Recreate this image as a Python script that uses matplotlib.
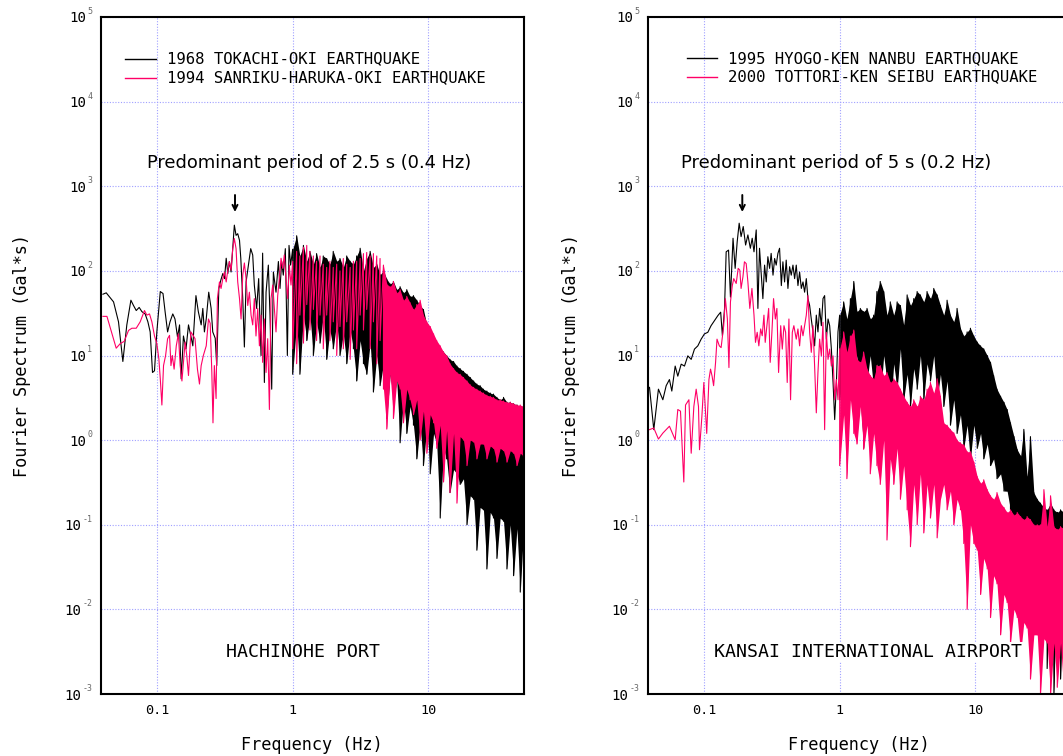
import numpy as np
import matplotlib
matplotlib.use("Agg")
import matplotlib.pyplot as plt
from matplotlib import font_manager
from matplotlib.transforms import offset_copy

# ---------------------------------------------------------------- data
F_DENSE = [1.0, 1.07, 1.13, 1.20, 1.27, 1.34, 1.42, 1.50, 1.59, 1.68,
           1.78, 1.88, 1.99, 2.11, 2.23, 2.36, 2.50, 2.65, 2.80, 2.96,
           3.14, 3.32, 3.51, 3.72, 3.93, 4.16, 4.40, 4.66, 4.93, 5.22,
           5.52, 5.84, 6.18, 6.54, 6.92, 7.32, 7.75, 8.20, 8.68, 9.18,
           9.72, 10.3, 10.9, 11.5, 12.2, 12.9, 13.6, 14.4, 15.3, 16.2,
           17.1, 18.1, 19.2, 20.3, 21.5, 22.7, 24.0, 25.4, 26.9, 28.5,
           30.1, 31.9, 33.7, 35.7, 37.8, 40.0, 42.3, 44.8, 47.4, 50.0]

# --- HACHINOHE PORT: 1968 Tokachi-oki
tokachi_f_low = [0.0401, 0.0424, 0.048, 0.0522, 0.0562, 0.0601, 0.0644, 0.0673, 0.0705, 0.0741,
                 0.0776, 0.082, 0.0859, 0.0893, 0.0929, 0.0961, 0.1, 0.106, 0.111, 0.115,
                 0.120, 0.125, 0.131, 0.136, 0.142, 0.147, 0.151, 0.157, 0.164, 0.171,
                 0.178, 0.184, 0.194, 0.202, 0.212, 0.218, 0.224, 0.231, 0.241, 0.251,
                 0.258, 0.269, 0.276, 0.286, 0.296, 0.306, 0.315, 0.324, 0.333, 0.342,
                 0.352, 0.362, 0.372, 0.383, 0.394, 0.406, 0.415, 0.429, 0.441, 0.454,
                 0.472, 0.491, 0.508, 0.522, 0.543, 0.562, 0.585, 0.601, 0.619, 0.637,
                 0.662, 0.681, 0.701, 0.721, 0.754, 0.785, 0.807, 0.830, 0.853, 0.883,
                 0.914, 0.940, 0.966]
tokachi_a_low = [53, 55, 43, 25, 8.5, 23, 45, 39, 34, 37,
                 33, 31, 25, 19, 6.3, 6.6, 19, 57, 54, 33,
                 19, 25, 31, 27, 16.5, 23, 5.3, 17, 12, 23,
                 17, 13, 51, 33, 23, 36, 19, 27, 56, 36,
                 19, 16, 7.6, 62, 78, 93, 81, 141, 93, 129,
                 97, 183, 347, 263, 275, 230, 141, 47, 12.6, 74,
                 117, 183, 154, 68, 36, 81, 10, 162, 4.8, 56,
                 117, 30, 4.0, 97, 56, 129, 62, 129, 89, 183,
                 10, 200, 117]
tokachi_hi = [180, 260, 150, 200, 130, 170, 120, 160, 110, 150,
              140, 120, 170, 130, 140, 110, 150, 130, 120, 150,
              185, 100, 140, 170, 110, 120, 90, 100, 80, 70,
              75, 60, 65, 55, 60, 50, 51, 45, 39, 35,
              23, 20, 16, 14, 12, 11, 10, 9, 8.5, 7.5,
              7.0, 6.5, 6.0, 5.5, 5.0, 4.6, 4.4, 4.0, 3.8, 3.6,
              3.5, 3.2, 3.0, 3.2, 2.8, 2.8, 2.7, 2.6, 2.5, 2.5]
tokachi_lo = [6, 25, 6, 30, 15, 30, 10, 25, 14, 30,
              9, 20, 12, 25, 10, 18, 8, 20, 12, 5,
              15, 8, 6, 14, 3.7, 10, 4.4, 8, 1.8, 6,
              3, 5, 0.93, 3, 1.2, 2.5, 1.5, 0.6, 1.5, 0.5,
              1.5, 0.4, 1.2, 0.9, 0.12, 0.8, 0.6, 0.24, 0.45, 0.4,
              0.3, 0.35, 0.1, 0.22, 0.2, 0.05, 0.16, 0.15, 0.03, 0.14,
              0.12, 0.04, 0.12, 0.11, 0.03, 0.1, 0.025, 0.09, 0.016, 0.08]
tokachi_solid_from = 1.0

# --- HACHINOHE PORT: 1994 Sanriku-haruka-oki
sanriku_f_low = [0.0401, 0.0429, 0.0502, 0.0537, 0.0575, 0.0619, 0.0655, 0.0705, 0.0754, 0.0811,
                 0.0844, 0.0883, 0.0919, 0.0961, 0.1, 0.1035, 0.106, 0.1089, 0.112, 0.116,
                 0.120, 0.124, 0.127, 0.130, 0.134, 0.139, 0.144, 0.1485, 0.153, 0.157,
                 0.1615, 0.166, 0.171, 0.178, 0.186, 0.191, 0.199, 0.206, 0.212, 0.220,
                 0.231, 0.240, 0.247, 0.254, 0.259, 0.265, 0.273, 0.279, 0.289, 0.297,
                 0.306, 0.315, 0.324, 0.333, 0.342, 0.352, 0.362, 0.372, 0.383, 0.394,
                 0.406, 0.417, 0.429, 0.441, 0.454, 0.467, 0.480, 0.494, 0.508, 0.522,
                 0.537, 0.553, 0.569, 0.585, 0.601, 0.619, 0.637, 0.655, 0.674, 0.693,
                 0.713, 0.733, 0.754, 0.776, 0.798, 0.821, 0.844, 0.868, 0.893, 0.919,
                 0.945, 0.972]
sanriku_a_low = [29, 29, 12.2, 13.8, 14.7, 19.8, 21, 21, 25, 34,
                 30, 31, 25, 17, 13.8, 9.1, 5.3, 2.6, 7.6, 10,
                 15.8, 17.3, 7.6, 10, 6.9, 13, 18, 7.6, 5.0, 8.3,
                 14.4, 10, 5.8, 19, 17, 15.8, 6.9, 4.6, 7.6, 10,
                 13, 27, 24, 6.3, 1.6, 7.6, 3.1, 47, 74, 62,
                 81, 97, 74, 102, 129, 102, 183, 241, 183, 74,
                 47, 27, 89, 124, 81, 39, 56, 30, 23, 47,
                 17, 36, 13, 30, 8.3, 27, 6.3, 15.8, 2.3, 47,
                 68, 36, 19, 51, 81, 141, 107, 154, 81, 47,
                 117, 68]
sanriku_hi = [130, 170, 150, 190, 200, 170, 150, 130, 150, 120,
              110, 130, 110, 120, 100, 140, 120, 110, 130, 130,
              140, 160, 165, 150, 160, 150, 140, 117, 70, 65,
              75, 55, 60, 45, 50, 42, 35, 40, 45, 30,
              25, 22, 18, 15, 13, 11, 10, 8, 7, 6.3,
              6, 5.5, 5, 4.5, 4.2, 4, 3.8, 3.6, 3.4, 3.3,
              3.2, 3.0, 3.0, 2.9, 2.8, 2.8, 2.7, 2.6, 2.6, 2.5]
sanriku_lo = [12, 8, 30, 14, 40, 20, 35, 15, 30, 12,
              30, 15, 25, 10, 22, 12, 25, 9, 20, 12,
              30, 20, 35, 12, 25, 8, 15, 4, 1.35, 6,
              1.8, 5, 4, 1.6, 4, 3, 2, 3, 1.0, 2.2,
              0.7, 2.0, 1.6, 0.8, 1.5, 0.32, 1.3, 0.24, 1.2, 0.18,
              1.1, 1.0, 0.5, 1.0, 0.95, 0.6, 0.9, 0.9, 0.6, 0.85,
              0.8, 0.55, 0.8, 0.75, 0.55, 0.75, 0.7, 0.5, 0.7, 0.65]
sanriku_solid_from = 4.66

# --- KANSAI INTERNATIONAL AIRPORT: 1995 Hyogo-ken Nanbu
hyogo_f_low = [0.0398, 0.0428, 0.0463, 0.0499, 0.0528, 0.0558, 0.0581, 0.0615, 0.0643, 0.0681,
               0.072, 0.0762, 0.0807, 0.0853, 0.0903, 0.0955, 0.101, 0.107, 0.113, 0.12,
               0.127, 0.133, 0.137, 0.142, 0.146, 0.152, 0.157, 0.164, 0.170, 0.176,
               0.182, 0.188, 0.195, 0.203, 0.211, 0.220, 0.227, 0.234, 0.243, 0.250,
               0.257, 0.265, 0.272, 0.280, 0.288, 0.296, 0.305, 0.313, 0.323, 0.332,
               0.341, 0.351, 0.361, 0.372, 0.382, 0.393, 0.404, 0.416, 0.428, 0.440,
               0.453, 0.466, 0.479, 0.493, 0.507, 0.522, 0.537, 0.552, 0.568, 0.584,
               0.601, 0.618, 0.636, 0.654, 0.673, 0.692, 0.712, 0.733, 0.754, 0.775,
               0.798, 0.821, 0.844, 0.869, 0.894, 0.919, 0.945, 0.972]
hyogo_a_low = [4.2, 1.33, 4.0, 3.0, 4.4, 5.2, 3.8, 7.5, 5.7, 7.9,
               7.5, 9.9, 9.0, 11.9, 13, 15.6, 18, 18.8, 22.5, 25.9,
               29.7, 32.5, 17.1, 35.6, 168, 176, 49, 243, 107, 221,
               366, 254, 334, 202, 266, 185, 243, 168, 305, 36,
               185, 89, 47, 117, 74, 147, 107, 161, 89, 140,
               117, 161, 185, 67, 128, 74, 134, 62, 112, 89,
               117, 81, 117, 67, 97, 62, 74, 56, 81, 47,
               39, 27, 19, 13, 30, 19, 36, 22.5, 47, 51,
               15.6, 27, 22.5, 11.9, 4.8, 1.75, 4.4, 19]
hyogo_hi = [30, 43, 27, 47, 75, 33, 36, 33, 36, 27,
            30, 57, 75, 57, 30, 43, 30, 43, 39, 23,
            52, 39, 47, 57, 52, 43, 57, 47, 62, 52,
            39, 30, 45, 30, 25, 36, 21, 17, 19, 21,
            17, 14.4, 13, 12, 10, 8.3, 5.8, 4.0, 3.3, 2.8,
            2.3, 1.6, 1.1, 0.77, 0.65, 1.34, 0.37, 1.1, 0.24, 0.20,
            0.18, 0.16, 0.15, 0.18, 0.15, 0.14, 0.15, 0.14, 0.14, 0.13]
hyogo_lo = [3.0, 8, 2.0, 6, 4, 10, 3, 0.8, 5, 10,
            4, 8, 3, 10, 5, 2, 8, 4, 12, 3,
            6, 2.5, 7, 4, 10, 3, 8, 5, 10, 3,
            6, 2.5, 5, 1.5, 3, 1.2, 2, 0.8, 1.5, 0.6,
            1.5, 0.8, 1.2, 0.6, 0.9, 0.5, 0.6, 0.35, 0.4, 0.25,
            0.25, 0.15, 0.12, 0.1, 0.09, 0.08, 0.07, 0.06, 0.02, 0.05,
            0.01, 0.05, 0.002, 0.04, 0.001, 0.04, 0.0015, 0.04, 0.002, 0.04]
hyogo_solid_from = 1.0

# --- KANSAI INTERNATIONAL AIRPORT: 2000 Tottori-ken Seibu
tottori_f_low = [0.0398, 0.0428, 0.0463, 0.0499, 0.0558, 0.0615, 0.0643, 0.0673, 0.0696, 0.0712,
                 0.0733, 0.0776, 0.0807, 0.0844, 0.0878, 0.0913, 0.0929, 0.0967, 0.1, 0.103,
                 0.105, 0.109, 0.112, 0.115, 0.118, 0.122, 0.125, 0.130, 0.134, 0.140,
                 0.144, 0.149, 0.153, 0.157, 0.162, 0.166, 0.173, 0.179, 0.184, 0.188,
                 0.194, 0.199, 0.205, 0.211, 0.218, 0.226, 0.234, 0.240, 0.247, 0.254,
                 0.262, 0.269, 0.277, 0.283, 0.291, 0.300, 0.308, 0.317, 0.326, 0.336,
                 0.345, 0.355, 0.368, 0.378, 0.389, 0.400, 0.411, 0.423, 0.435, 0.448,
                 0.460, 0.479, 0.493, 0.507, 0.522, 0.537, 0.552, 0.568, 0.584, 0.601,
                 0.618, 0.636, 0.654, 0.673, 0.692, 0.712, 0.733, 0.754, 0.775, 0.798,
                 0.821, 0.844, 0.869, 0.894, 0.919, 0.945, 0.972]
tottori_a_low = [1.33, 1.39, 1.03, 1.21, 1.46, 1.01, 2.3, 2.2, 0.70, 0.32,
                 2.6, 3.0, 0.70, 2.5, 4.0, 2.5, 0.77, 1.9, 4.8, 2.1,
                 1.2, 5.2, 6.9, 5.7, 4.4, 8.3, 15.6, 13, 12.4, 22.5,
                 47, 27, 7.2, 43, 67, 81, 71, 107, 102, 62,
                 85, 128, 122, 74, 36, 62, 30, 14.3, 18.8, 13,
                 20.6, 17.1, 30, 14.3, 22.5, 36, 8.3, 18.8, 47, 27,
                 36, 6.3, 22.5, 11.9, 22.5, 18.8, 4.8, 27, 3.0, 18.8,
                 22.5, 15.6, 20.6, 13, 22.5, 17.1, 22.5, 30, 51, 18.8,
                 10.9, 22.5, 7.5, 2.1, 6.3, 15.6, 9.9, 24.7, 1.33, 18.8,
                 9, 11.9, 7.5, 9.9, 3.0, 5.2, 3.0]
tottori_hi = [12, 19, 11, 17, 20, 9.1, 8.3, 11, 6.9, 5.8,
              5.3, 7.6, 7.6, 5.8, 6.3, 4.8, 5.3, 4.8, 4.0, 3.3,
              2.8, 2.5, 3.0, 2.5, 3.3, 3.0, 4.0, 4.8, 3.6, 5.3,
              3.3, 1.6, 1.5, 1.34, 1.22, 1.0, 0.93, 0.88, 0.73, 0.73,
              0.55, 0.37, 0.31, 0.34, 0.26, 0.22, 0.20, 0.24, 0.18, 0.16,
              0.14, 0.15, 0.13, 0.14, 0.125, 0.115, 0.125, 0.115, 0.10, 0.10,
              0.10, 0.26, 0.095, 0.22, 0.095, 0.088, 0.095, 0.09, 0.09, 0.085]
tottori_lo = [0.5, 2, 0.35, 3, 1.2, 0.9, 2.5, 0.78, 1.5, 0.4,
              1.2, 0.5, 0.3, 1.0, 0.066, 0.6, 0.3, 0.8, 0.2, 0.5,
              0.15, 0.055, 0.3, 0.1, 0.4, 0.08, 0.3, 0.12, 0.3, 0.07,
              0.2, 0.3, 0.15, 0.25, 0.1, 0.2, 0.15, 0.06, 0.01, 0.1,
              0.06, 0.05, 0.015, 0.04, 0.03, 0.008, 0.025, 0.02, 0.005, 0.015,
              0.012, 0.004, 0.01, 0.008, 0.003, 0.007, 0.006, 0.0015, 0.005, 0.005,
              0.001, 0.0045, 0.004, 0.001, 0.004, 0.0012, 0.004, 0.001, 0.004, 0.001]
tottori_solid_from = 1.0

X_TICKS = [0.1, 1, 10]
X_TICK_LABELS = ["0.1", "1", "10"]
Y_EXPONENTS = list(range(-3, 6))

LEFT_LEGEND = ["1968 TOKACHI-OKI EARTHQUAKE", "1994 SANRIKU-HARUKA-OKI EARTHQUAKE"]
RIGHT_LEGEND = ["1995 HYOGO-KEN NANBU EARTHQUAKE", "2000 TOTTORI-KEN SEIBU EARTHQUAKE"]

# ---------------------------------------------------------------- fonts
names = {f.name for f in font_manager.fontManager.ttflist}
MONO, ADV = "DejaVu Sans Mono", 0.602
for cand in ["Noto Sans Mono CJK JP", "Noto Sans Mono CJK SC"]:
    if cand in names:
        MONO, ADV = cand, 0.5
        break
PROP = "DejaVu Sans"


def pt(adv_px):
    return adv_px / ADV * 0.72


BLACK = "#000000"
PINK = "#ff0066"
GRID = "#a0a0ff"

W, H = 1063, 756
fig = plt.figure(figsize=(W / 100, H / 100), dpi=100)
fig.patch.set_facecolor("white")

AX_W, AX_T, AX_B = 423.3, 17.0, 694.0


def make_axes(left_px):
    return fig.add_axes([left_px / W, 1 - AX_B / H, AX_W / W, (AX_B - AX_T) / H])


def draw_series(ax, f_low, a_low, hi, lo, solid_from, color):
    fd = np.asarray(F_DENSE)
    ax.fill_between(fd, lo, hi, where=fd >= solid_from, color=color, lw=0, zorder=2)
    f = np.concatenate([np.asarray(f_low), np.repeat(fd, 2)])
    a = np.concatenate([np.asarray(a_low), np.column_stack([hi, lo]).ravel()])
    ax.plot(f, a, color=color, lw=0.8, zorder=2)


def style_axes(ax, ylabel_x):
    ax.set_xscale("log")
    ax.set_yscale("log")
    ax.set_xlim(0.0386, 50.5)
    ax.set_ylim(1e-3, 1e5)
    ax.minorticks_off()
    ax.set_axisbelow(True)
    ax.set_xticks(X_TICKS)
    ax.set_xticklabels(X_TICK_LABELS, fontfamily=MONO, fontsize=pt(8.1))
    ax.set_yticks([10.0 ** k for k in Y_EXPONENTS])
    ax.set_yticklabels([])
    ax.tick_params(length=0)
    ax.tick_params(axis="x", pad=7)
    ax.grid(True, which="major", color=GRID, linestyle=(0, (1, 1.5)), linewidth=0.8)
    for sp in ax.spines.values():
        sp.set_color("black")
        sp.set_linewidth(1.5)
    trans = ax.get_yaxis_transform()
    for k in Y_EXPONENTS:
        s = str(k)
        t_exp = offset_copy(trans, fig=fig, x=-8.5, y=5.5, units="dots")
        ax.text(0, 10.0 ** k, s, transform=t_exp, ha="right", va="center",
                fontsize=pt(5.0), color="#666666", family=[MONO, "DejaVu Sans"])
        t10 = offset_copy(trans, fig=fig, x=-8.5 - 5.0 * len(s) - 0.5, y=-1.5, units="dots")
        ax.text(0, 10.0 ** k, "10", transform=t10, ha="right", va="center",
                fontsize=pt(8.5), color="black", family=MONO)
    ax.set_xlabel("Frequency (Hz)", fontfamily=MONO, fontsize=pt(10.2))
    ax.xaxis.label.set_va("center")
    ax.xaxis.set_label_coords(0.5, (AX_B - 745) / (AX_B - AX_T))
    ax.set_ylabel("Fourier Spectrum (Gal*s)", fontfamily=MONO, fontsize=pt(10.2))
    ax.yaxis.label.set_va("center")
    ax.yaxis.label.set_ha("center")
    ax.yaxis.set_label_coords(ylabel_x, 0.5)


def ax_frac(left_px, x_px, y_px):
    return (x_px - left_px) / AX_W, (AX_B - y_px) / (AX_B - AX_T)


def legend_block(ax, left_px, x0, x1, xt, ys, labels):
    for (y, lab, col) in zip(ys, labels, [BLACK, PINK]):
        ax0, ay = ax_frac(left_px, x0, y)
        ax1, _ = ax_frac(left_px, x1, y)
        ax.plot([ax0, ax1], [ay, ay], transform=ax.transAxes, color=col, lw=1.0,
                clip_on=False, zorder=5)
        axt, ayt = ax_frac(left_px, xt, y)
        ax.text(axt, ayt, lab, transform=ax.transAxes, ha="left", va="center",
                fontsize=pt(9.4), family=MONO, zorder=5)


def arrow(ax, left_px, x, y0, y1):
    xa, ya0 = ax_frac(left_px, x, y0)
    _, ya1 = ax_frac(left_px, x, y1)
    ax.annotate("", xy=(xa, ya1), xytext=(xa, ya0), xycoords="axes fraction",
                arrowprops=dict(arrowstyle="->", lw=1.4, color="black",
                                mutation_scale=9, shrinkA=0, shrinkB=0))


# ---------------------------------------------------------------- left panel
L_LEFT = 100.7
axL = make_axes(L_LEFT)
draw_series(axL, tokachi_f_low, tokachi_a_low, tokachi_hi, tokachi_lo,
            tokachi_solid_from, BLACK)
draw_series(axL, sanriku_f_low, sanriku_a_low, sanriku_hi, sanriku_lo,
            sanriku_solid_from, PINK)
style_axes(axL, (22 - L_LEFT) / AX_W)
legend_block(axL, L_LEFT, 125, 155.5, 166.7, [58.5, 77.5], LEFT_LEGEND)
tx, ty = ax_frac(L_LEFT, 309, 162.5)
axL.text(tx, ty, "Predominant period of 2.5 s (0.4 Hz)", transform=axL.transAxes,
         ha="center", va="center", fontsize=12.9, family=PROP, zorder=5)
arrow(axL, L_LEFT, 235, 195, 212)
sx, sy = ax_frac(L_LEFT, 303.4, 651.7)
axL.text(sx, sy, "HACHINOHE PORT", transform=axL.transAxes, ha="center", va="center",
         fontsize=pt(11), family=MONO, zorder=6)

# ---------------------------------------------------------------- right panel
R_LEFT = 647.7
axR = make_axes(R_LEFT)
draw_series(axR, hyogo_f_low, hyogo_a_low, hyogo_hi, hyogo_lo,
            hyogo_solid_from, BLACK)
draw_series(axR, tottori_f_low, tottori_a_low, tottori_hi, tottori_lo,
            tottori_solid_from, PINK)
style_axes(axR, (571 - R_LEFT) / AX_W)
legend_block(axR, R_LEFT, 686.7, 716.7, 728.3, [58.3, 76.7], RIGHT_LEGEND)
tx, ty = ax_frac(R_LEFT, 836.5, 163.5)
axR.text(tx, ty, "Predominant period of 5 s (0.2 Hz)", transform=axR.transAxes,
         ha="center", va="center", fontsize=13.0, family=PROP, zorder=5)
arrow(axR, R_LEFT, 742.3, 195, 212)
sx, sy = ax_frac(R_LEFT, 868, 652)
axR.text(sx, sy, "KANSAI INTERNATIONAL AIRPORT", transform=axR.transAxes, ha="center",
         va="center", fontsize=pt(11), family=MONO, zorder=6,
         bbox=dict(facecolor="white", edgecolor="none", pad=1.0))

fig.savefig("out.png", dpi=100, facecolor="white")
